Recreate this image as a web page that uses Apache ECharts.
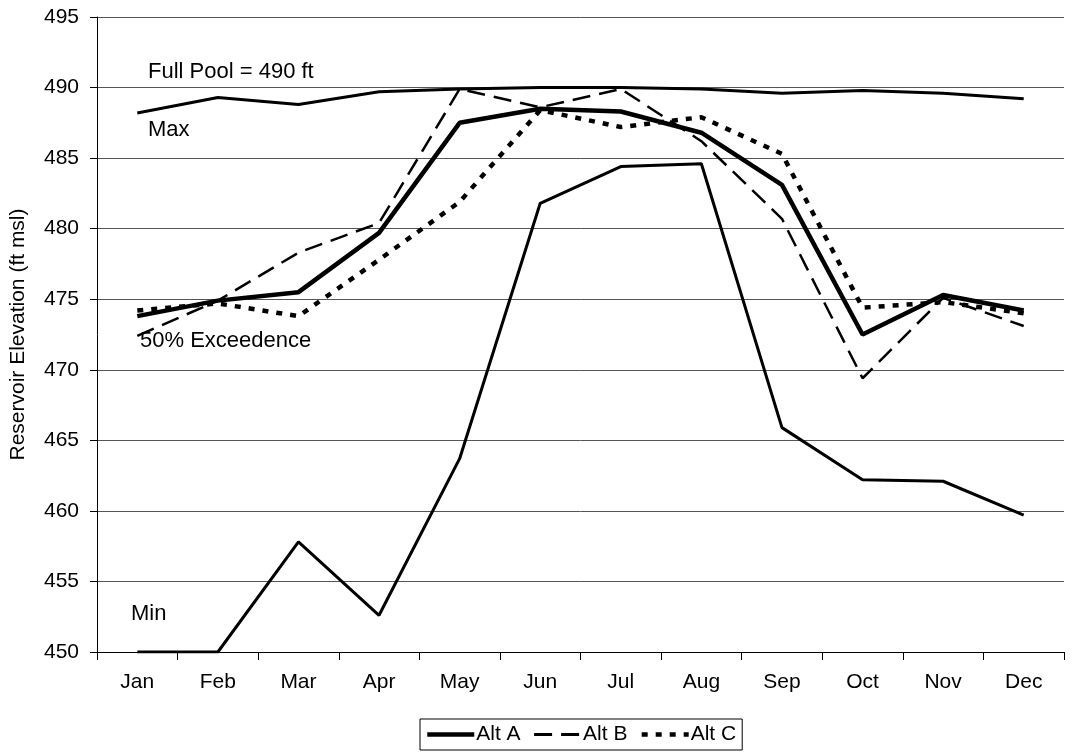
<!DOCTYPE html>
<html lang="en">
<head>
    <meta charset="UTF-8">
    <title>Reservoir Elevation</title>
    <script type="text/javascript" src="https://cdn.jsdelivr.net/npm/echarts@6/dist/echarts.min.js"></script>
    <style>
        html, body {
            margin: 0;
            padding: 0;
            background: #fff;
        }

        #main {
            width: 1076px;
            height: 753px;
        }
    </style>
</head>
<body>
<div id="main"></div>
<script>
    // months along the x axis
    var months = ["Jan", "Feb", "Mar", "Apr", "May", "Jun", "Jul", "Aug", "Sep", "Oct", "Nov", "Dec"];

    // envelope curves (not in legend)
    var maxElev = [488.2, 489.3, 488.8, 489.7, 489.9, 490.0, 490.0, 489.9, 489.6, 489.8, 489.6, 489.2];
    var minElev = [450.0, 450.0, 457.8, 452.6, 463.7, 481.8, 484.4, 484.6, 465.9, 462.2, 462.1, 459.7];

    // 50% exceedence for each alternative
    var altA = [473.8, 474.9, 475.5, 479.7, 487.5, 488.5, 488.3, 486.8, 483.1, 472.5, 475.3, 474.2];
    var altB = [472.4, 474.9, 478.3, 480.4, 489.9, 488.6, 489.9, 486.2, 480.7, 469.4, 475.1, 473.1];
    var altC = [474.2, 474.7, 473.8, 477.8, 481.9, 488.4, 487.2, 487.9, 485.3, 474.4, 474.8, 474.0];

    var FONT = "Liberation Sans, Arial, sans-serif";

    var chartDom = document.getElementById('main');
    var myChart = echarts.init(chartDom);

    var option = {
        animation: false,
        backgroundColor: '#fff',
        color: ['#000', '#000', '#000', '#000', '#000'],
        grid: {
            left: 97,
            right: 12,
            top: 17,
            bottom: 101
        },
        legend: {
            data: [
                {name: 'Alt A', lineStyle: {width: 4.5}},
                {name: 'Alt B', lineStyle: {width: 3}},
                {name: 'Alt C', lineStyle: {width: 4.5}}
            ],
            left: 420,
            top: 719,
            itemWidth: 47,
            itemHeight: 14,
            itemGap: 12,
            padding: [5, 6, 5, 5],
            borderColor: '#000',
            borderWidth: 1,
            borderRadius: 0,
            // hide the dot drawn on top of the line icon
            itemStyle: {opacity: 0},
            textStyle: {
                color: '#000',
                fontSize: 21,
                fontFamily: FONT,
                padding: [0, 0, 0, -3]
            }
        },
        xAxis: [{
            type: 'category',
            data: months,
            boundaryGap: true,
            axisLine: {
                lineStyle: {color: '#000', width: 1}
            },
            axisTick: {
                show: true,
                length: 8,
                lineStyle: {color: '#000'}
            },
            axisLabel: {
                color: '#000',
                fontSize: 21,
                fontFamily: FONT,
                margin: 20
            }
        }],
        yAxis: [{
            type: 'value',
            name: 'Reservoir Elevation (ft msl)',
            nameLocation: 'middle',
            nameGap: 68,
            nameTextStyle: {
                color: '#000',
                fontSize: 21,
                fontFamily: FONT
            },
            min: 450,
            max: 495,
            interval: 5,
            axisLine: {
                show: true,
                lineStyle: {color: '#000', width: 1}
            },
            axisTick: {
                show: true,
                length: 7,
                lineStyle: {color: '#000'}
            },
            axisLabel: {
                color: '#000',
                fontSize: 21,
                fontFamily: FONT,
                margin: 18
            },
            splitLine: {
                lineStyle: {color: '#555', width: 1}
            }
        }],
        graphic: [
            {type: 'text', left: 148, top: 61, style: {text: 'Full Pool = 490 ft', fontSize: 22, fontFamily: FONT, fill: '#000'}},
            {type: 'text', left: 148, top: 119, style: {text: 'Max', fontSize: 22, fontFamily: FONT, fill: '#000'}},
            {type: 'text', left: 140, top: 330, style: {text: '50% Exceedence', fontSize: 22, fontFamily: FONT, fill: '#000'}},
            {type: 'text', left: 131, top: 603, style: {text: 'Min', fontSize: 22, fontFamily: FONT, fill: '#000'}}
        ],
        series: [
            {
                name: 'Max',
                type: 'line',
                symbol: 'none',
                itemStyle: {color: '#000'},
                lineStyle: {color: '#000', width: 3},
                data: maxElev
            },
            {
                name: 'Min',
                type: 'line',
                symbol: 'none',
                itemStyle: {color: '#000'},
                lineStyle: {color: '#000', width: 3},
                data: minElev
            },
            {
                name: 'Alt A',
                type: 'line',
                symbol: 'none',
                itemStyle: {color: '#000'},
                lineStyle: {color: '#000', width: 4.5},
                data: altA
            },
            {
                name: 'Alt B',
                type: 'line',
                symbol: 'none',
                itemStyle: {color: '#000'},
                lineStyle: {color: '#000', width: 2.5, type: [18, 9]},
                data: altB
            },
            {
                name: 'Alt C',
                type: 'line',
                symbol: 'none',
                itemStyle: {color: '#000'},
                lineStyle: {color: '#000', width: 4.5, type: [6, 8]},
                data: altC
            }
        ]
    };

    myChart.setOption(option);

    window.addEventListener('resize', function () {
        myChart.resize();
    })
</script>
</body>
</html>
